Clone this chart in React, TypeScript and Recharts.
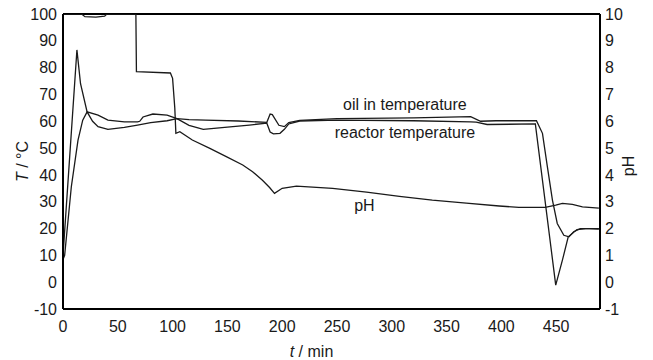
import React from 'react';
import { LineChart, Line, XAxis, YAxis, ReferenceLine, ReferenceDot, Label } from 'recharts';

// time axis (min)
const timeTicks = [0, 50, 100, 150, 200, 250, 300, 350, 400, 450];
const tempTicks = [-10, 0, 10, 20, 30, 40, 50, 60, 70, 80, 90, 100];
const phTicks = [-1, 0, 1, 2, 3, 4, 5, 6, 7, 8, 9, 10];

// oil in temperature (°C)
const oilTime = [0, 12.7, 16, 22, 27, 32, 41, 56, 68, 80, 95, 104, 115, 130, 160, 186, 189, 191, 197, 202, 206, 216, 250, 320, 372, 381, 395, 432, 437.5, 442, 446.6, 451, 457, 461.7, 466, 472, 480, 489];
const oilTemp = [10, 86.6, 74, 63.5, 60, 58, 57, 57.7, 58.6, 59.5, 60.2, 61, 60.6, 60.4, 60.1, 59.6, 62.7, 62.5, 58.5, 58, 59.5, 60.3, 61, 61.3, 61.7, 60, 60.2, 60.2, 55.5, 43, 30.6, 21.9, 17.5, 16.9, 18.8, 20, 20, 19.8];

// reactor temperature (°C)
const reactorTime = [0, 1.5, 7.6, 13.7, 18, 22, 32, 41, 56, 68, 70, 73, 82, 95, 104, 115, 128, 150, 170, 186, 189, 192, 198, 202, 206, 216, 250, 320, 372, 377, 387, 431, 449.6, 455.7, 461, 469, 477, 489];
const reactorTemp = [8.5, 10, 35.6, 53, 60.4, 63.5, 62.3, 60.4, 59.8, 59.8, 60, 61.6, 62.7, 62.3, 61, 58.5, 57, 57.8, 58.6, 59.3, 56, 55.3, 55.5, 57, 59, 60.1, 60.4, 60.2, 59.8, 59.7, 58.8, 59, -1.1, 8.2, 16.9, 19.6, 20, 20];

// pH
const phTime = [0, 17, 20, 30, 38, 40, 66.5, 67, 98, 100, 102, 103, 106.6, 118, 134, 149, 164, 173, 182, 188.5, 193, 200, 213, 246, 277, 307, 337, 368, 398, 416, 440, 449.6, 455.7, 464.8, 474, 489];
const phValue = [10, 10, 9.9, 9.88, 9.92, 10, 10, 7.85, 7.8, 7.6, 6.5, 5.55, 5.61, 5.3, 4.99, 4.68, 4.37, 4.12, 3.8, 3.53, 3.31, 3.5, 3.58, 3.5, 3.36, 3.2, 3.06, 2.95, 2.84, 2.79, 2.79, 2.87, 2.94, 2.9, 2.81, 2.76];

const oilData = oilTime.map((t, i) => ({ t, v: oilTemp[i] }));
const reactorData = reactorTime.map((t, i) => ({ t, v: reactorTemp[i] }));
const phData = phTime.map((t, i) => ({ t, v: phValue[i] }));

const FONT = '"Liberation Sans", Arial, sans-serif';
const INK = '#1a1a1a';
const tick = { fill: INK, fontSize: 16, fontFamily: FONT };

const App: React.FC = () => {
  return (
    <div style={{ position: 'absolute', left: 0, top: 0, background: '#fff' }}>
      <LineChart width={653} height={360} margin={{ top: 14, right: 0, bottom: 0, left: 0 }}>
        <XAxis
          dataKey="t"
          type="number"
          domain={[0, 490]}
          ticks={timeTicks}
          allowDataOverflow
          height={51}
          tickLine={false}
          tickSize={10}
          tickMargin={2}
          tick={tick}
          axisLine={{ stroke: '#000', strokeWidth: 2 }}
        >
          <Label
            content={({ viewBox }: any) => (
              <text
                x={viewBox.x + viewBox.width / 2 - 20}
                y={357}
                textAnchor="middle"
                fill={INK}
                fontSize={16}
                fontFamily={FONT}
              >
                <tspan fontStyle="italic">t</tspan> / min
              </text>
            )}
          />
        </XAxis>
        <YAxis
          yAxisId="left"
          domain={[-10, 100]}
          ticks={tempTicks}
          allowDataOverflow
          width={63}
          tickLine={false}
          tickSize={4}
          tickMargin={2}
          tick={tick}
          axisLine={{ stroke: '#000', strokeWidth: 2 }}
        >
          <Label
            content={({ viewBox }: any) => {
              const cx = 22;
              const cy = viewBox.y + viewBox.height / 2;
              return (
                <text
                  x={cx}
                  y={cy}
                  transform={`rotate(-90, ${cx}, ${cy})`}
                  textAnchor="middle"
                  dominantBaseline="central"
                  fill={INK}
                  fontSize={16}
                  fontFamily={FONT}
                >
                  <tspan fontStyle="italic">T</tspan> / °C
                </text>
              );
            }}
          />
        </YAxis>
        <YAxis
          yAxisId="right"
          orientation="right"
          domain={[-1, 10]}
          ticks={phTicks}
          allowDataOverflow
          width={53}
          tickLine={false}
          tickSize={3}
          tickMargin={2}
          tick={tick}
          axisLine={{ stroke: '#000', strokeWidth: 2 }}
        >
          <Label
            content={({ viewBox }: any) => {
              const cx = viewBox.x + 28;
              const cy = 166;
              return (
                <text
                  x={cx}
                  y={cy}
                  transform={`rotate(-90, ${cx}, ${cy})`}
                  textAnchor="middle"
                  dominantBaseline="central"
                  fill={INK}
                  fontSize={16}
                  fontFamily={FONT}
                >
                  pH
                </text>
              );
            }}
          />
        </YAxis>
        <ReferenceLine yAxisId="left" y={100} stroke="#000" strokeWidth={2} />

        <Line
          yAxisId="left"
          data={oilData}
          dataKey="v"
          type="linear"
          dot={false}
          stroke={INK}
          strokeWidth={1.3}
          isAnimationActive={false}
        />
        <Line
          yAxisId="left"
          data={reactorData}
          dataKey="v"
          type="linear"
          dot={false}
          stroke={INK}
          strokeWidth={1.3}
          isAnimationActive={false}
        />
        <Line
          yAxisId="right"
          data={phData}
          dataKey="v"
          type="linear"
          dot={false}
          stroke={INK}
          strokeWidth={1.3}
          isAnimationActive={false}
        />

        <ReferenceDot
          yAxisId="left"
          x={312}
          y={66.5}
          r={0}
          fill="none"
          stroke="none"
          label={{ value: 'oil in temperature', position: 'center', fill: INK, fontSize: 16, fontFamily: FONT }}
        />
        <ReferenceDot
          yAxisId="left"
          x={312}
          y={55.8}
          r={0}
          fill="none"
          stroke="none"
          label={{ value: 'reactor temperature', position: 'center', fill: INK, fontSize: 16, fontFamily: FONT }}
        />
        <ReferenceDot
          yAxisId="left"
          x={275}
          y={28.8}
          r={0}
          fill="none"
          stroke="none"
          label={{ value: 'pH', position: 'center', fill: INK, fontSize: 16, fontFamily: FONT }}
        />
      </LineChart>
    </div>
  );
};

export default App;
